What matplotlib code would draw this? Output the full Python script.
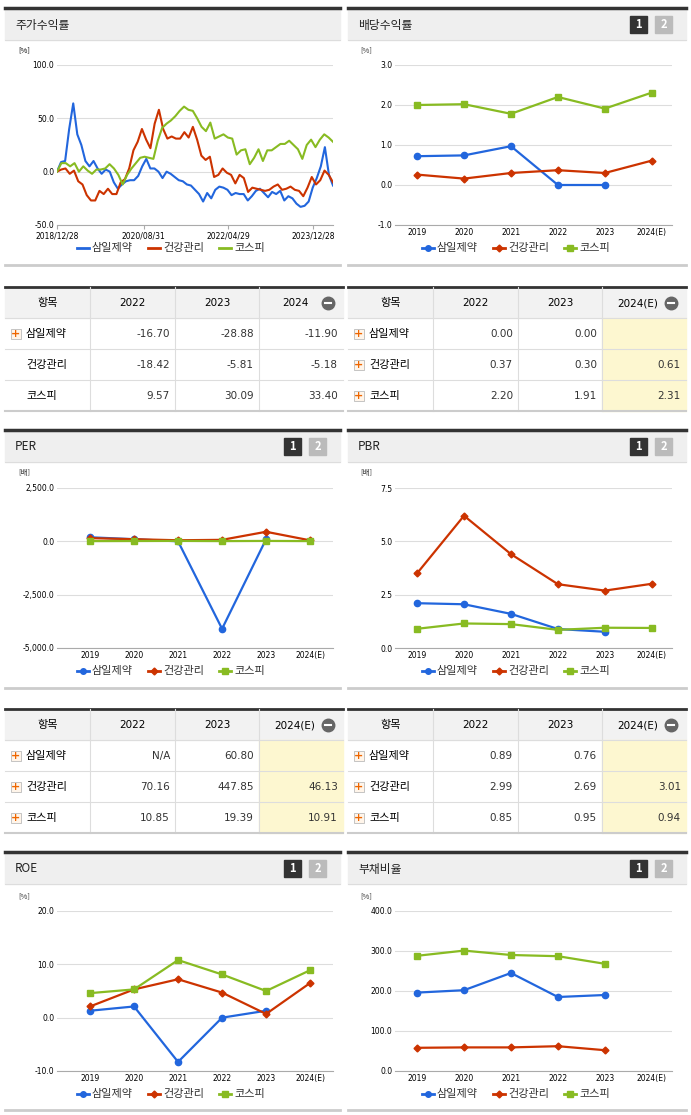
import numpy as np
import matplotlib
matplotlib.use("Agg")
import matplotlib.pyplot as plt
from matplotlib.patches import Rectangle
from matplotlib.lines import Line2D

plt.rcParams['font.family'] = ['Noto Sans CJK KR', 'DejaVu Sans']

names = ['삼일제약', '건강관리', '코스피']
colors = ['#2266dd', '#cc3300', '#88bb22']
markers = ['o', 'D', 's']
years = ['2019', '2020', '2021', '2022', '2023', '2024(E)']

stock_dates = ['2018/12/28', '2020/08/31', '2022/04/29', '2023/12/28']
stock_samil = [0, 9, 10, 40, 64, 35, 25, 10, 5, 10, 3, -2, 2, 0, -10, -16, -12, -9, -8, -8, -4, 5, 12, 3, 3,
               0, -6, 0, -2, -5, -8, -9, -12, -13, -17, -21, -28, -20, -25, -17, -14, -15, -17, -22, -20,
               -21, -21, -27, -23, -18, -16, -20, -24, -19, -21, -18, -27, -23, -25, -30, -33, -32, -28,
               -15, -6, 5, 23, -3, -13]
stock_health = [0, 2, 3, -2, 1, -9, -12, -22, -27, -27, -18, -21, -16, -21, -21, -10, -7, 3, 20, 28, 40, 30,
                22, 45, 58, 40, 31, 33, 31, 31, 37, 32, 42, 30, 15, 11, 14, -5, -3, 3, -1, -3, -11, -3, -6,
                -19, -15, -16, -17, -18, -17, -14, -12, -17, -16, -14, -17, -18, -23, -15, -5, -12, -8, 1,
                -3, -10]
stock_kospi = [0, 8, 8, 5, 8, 0, 5, 1, -2, 2, 2, 3, 7, 3, -3, -12, -3, 3, 8, 13, 14, 13, 12, 29, 41, 45, 48,
               52, 57, 61, 58, 57, 50, 42, 38, 46, 31, 33, 35, 32, 31, 16, 20, 21, 7, 13, 21, 10, 20, 20,
               23, 26, 26, 29, 25, 21, 12, 25, 30, 23, 30, 35, 32, 28]

div = [[0.72, 0.74, 0.97, 0.0, 0.0, None], [0.26, 0.16, 0.30, 0.37, 0.30, 0.61], [2.0, 2.02, 1.78, 2.20, 1.91, 2.31]]
per = [[190, 100, 0, -4100, 100, None], [150, 100, 50, 70, 448, 46], [10, 15, 20, 11, 19, 11]]
pbr = [[2.1, 2.05, 1.6, 0.89, 0.76, None], [3.5, 6.2, 4.4, 2.99, 2.69, 3.01], [0.9, 1.15, 1.12, 0.85, 0.95, 0.94]]
roe = [[1.3, 2.1, -8.3, 0.0, 1.3, None], [2.1, 5.3, 7.2, 4.7, 0.7, 6.5], [4.6, 5.3, 10.8, 8.1, 5.0, 8.9]]
debt = [[196, 202, 245, 185, 190, None], [58, 59, 59, 62, 52, None], [288, 301, 290, 287, 268, None]]

t1_cols = ['2022', '2023', '2024']
t1 = [['-16.70', '-28.88', '-11.90'], ['-18.42', '-5.81', '-5.18'], ['9.57', '30.09', '33.40']]
t_cols = ['2022', '2023', '2024(E)']
t2 = [['0.00', '0.00', ''], ['0.37', '0.30', '0.61'], ['2.20', '1.91', '2.31']]
t3 = [['N/A', '60.80', ''], ['70.16', '447.85', '46.13'], ['10.85', '19.39', '10.91']]
t4 = [['0.89', '0.76', ''], ['2.99', '2.69', '3.01'], ['0.85', '0.95', '0.94']]

W, H = 691, 1115
fig = plt.figure(figsize=(W / 100, H / 100), dpi=100)
bg = fig.add_axes([0, 0, 1, 1])
bg.set_xlim(0, W); bg.set_ylim(H, 0); bg.axis('off')


def pax(x0, y0, x1, y1):
    return fig.add_axes([x0 / W, 1 - y1 / H, (x1 - x0) / W, (y1 - y0) / H])


def panel(x0, x1, y0, y1, title, buttons):
    bg.add_patch(Rectangle((x0, y0), x1 - x0, 32, color='#efefef', zorder=0))
    bg.plot([x0, x1], [y0, y0], color='#333333', lw=2.5)
    bg.plot([x0, x1], [y0 + 32, y0 + 32], color='#dddddd', lw=0.8)
    bg.plot([x0, x1], [y1, y1], color='#cccccc', lw=2)
    bg.text(x0 + 10, y0 + 17, title, fontsize=8.5, va='center', color='#222222')
    if buttons:
        for i, (fc, lab) in enumerate([('#333333', '1'), ('#bbbbbb', '2')]):
            bx = x1 - 56 + i * 25
            bg.add_patch(Rectangle((bx, y0 + 8), 17, 17, color=fc))
            bg.text(bx + 8.5, y0 + 16.5, lab, color='white', fontsize=8, ha='center', va='center', weight='bold')


def style(ax, yticks, fmt):
    ax.set_ylim(yticks[0], yticks[-1])
    ax.set_yticks(yticks)
    ax.set_yticklabels([fmt.format(v) for v in yticks], fontsize=5.5, family='DejaVu Sans')
    ax.grid(axis='y', color='#dddddd', lw=0.8)
    ax.set_axisbelow(True)
    for s in ['top', 'right', 'left']:
        ax.spines[s].set_visible(False)
    ax.spines['bottom'].set_color('#aaaaaa')
    ax.tick_params(length=0, pad=2, labelsize=5.5)
    ax.patch.set_alpha(0)


def legend(cx, y, with_markers=True):
    x = cx - 95
    for n, c, m in zip(names, colors, markers):
        bg.plot([x, x + 12], [y, y], color=c, lw=2)
        if with_markers:
            bg.plot([x + 6], [y], marker=m, color=c, ms=4 if m != 'D' else 3.5)
        bg.text(x + 15, y, n, fontsize=8, va='center', color='#333333')
        x += 15 + len(n) * 11 + 12


def cat_chart(box, data, yticks, fmt, unit, unit_xy, xl):
    ax = pax(*box)
    for d, c, m in zip(data, colors, markers):
        xs = [i for i, v in enumerate(d) if v is not None]
        ys = [v for v in d if v is not None]
        ax.plot(xs, ys, color=c, lw=1.6, marker=m, ms=4.5 if m != 'D' else 3.5)
    ax.set_xlim(*xl)
    ax.set_xticks(range(6))
    ax.set_xticklabels(years, fontsize=5.5, family='DejaVu Sans')
    style(ax, yticks, fmt)
    bg.text(unit_xy[0], unit_xy[1], unit, fontsize=5.5, color='#333333')
    return ax


def table(x0, y0, cols, rows, icons, yellow, minus_col=2):
    xs = [x0, x0 + 85, x0 + 170, x0 + 254, x0 + 338]
    bg.plot([x0, xs[-1]], [y0, y0], color='#333333', lw=2)
    bg.add_patch(Rectangle((x0, y0), xs[-1] - x0, 31, color='#f2f2f2', zorder=0))
    if yellow:
        bg.add_patch(Rectangle((xs[3], y0 + 31), xs[4] - xs[3], 93, color='#fdf7d0', zorder=0))
    for i in range(1, 4):
        bg.plot([xs[i], xs[i]], [y0, y0 + 124], color='#dddddd', lw=0.8)
    for r in range(1, 4):
        bg.plot([x0, xs[-1]], [y0 + 31 * r, y0 + 31 * r], color='#dddddd', lw=0.8)
    bg.plot([x0, xs[-1]], [y0 + 124, y0 + 124], color='#cccccc', lw=1.5)
    bg.text((xs[0] + xs[1]) / 2, y0 + 16, '항목', ha='center', va='center', fontsize=8)
    for i, c in enumerate(cols):
        cx = (xs[i + 1] + xs[i + 2]) / 2
        if i == minus_col:
            bg.text(cx - 6, y0 + 16, c, ha='center', va='center', fontsize=7.5, family='DejaVu Sans')
            bg.plot([cx + 27], [y0 + 15.5], 'o', ms=9, color='#666666')
            bg.plot([cx + 24, cx + 30], [y0 + 15.5, y0 + 15.5], color='white', lw=1.5)
        else:
            bg.text(cx, y0 + 16, c, ha='center', va='center', fontsize=7.5, family='DejaVu Sans')
    for r, (n, row) in enumerate(zip(names, rows)):
        yy = y0 + 31 * (r + 1) + 16
        if icons[r]:
            bg.add_patch(Rectangle((x0 + 6, yy - 5), 10, 10, facecolor='#fff5ea', edgecolor='#bbbbbb', lw=0.6))
            bg.text(x0 + 11, yy, '+', color='#ee6600', fontsize=8, ha='center', va='center', weight='bold', family='DejaVu Sans')
        bg.text(x0 + 21, yy, n, va='center', fontsize=8)
        for i, v in enumerate(row):
            bg.text(xs[i + 2] - 5, yy, v, ha='right', va='center', fontsize=7.5, family='DejaVu Sans', color='#333333')


# Panels
panel(5, 340, 8, 265, '주가수익률', False)
panel(348, 686, 8, 265, '배당수익률', True)
panel(5, 340, 430, 688, 'PER', True)
panel(348, 686, 430, 688, 'PBR', True)
panel(5, 340, 852, 1110, 'ROE', True)
panel(348, 686, 852, 1110, '부채비율', True)

# Stock chart
ax = pax(57, 65, 333, 225)
for d, c in zip([stock_samil, stock_health, stock_kospi], colors):
    ax.plot(np.linspace(0, 1, len(d)), d, color=c, lw=1.5)
ax.set_xlim(0, 1)
ax.set_xticks([0, 0.3146, 0.6195, 0.9268])
ax.set_xticklabels(stock_dates, fontsize=5.5, family='DejaVu Sans')
style(ax, [-50, 0, 50, 100], '{:.1f}')
ax.tick_params(axis='x', length=3, color='#aaaaaa')
bg.text(18, 52, '[%]', fontsize=5.5)
legend(172, 248, with_markers=False)

cat_chart((395, 65, 672, 225), div, [-1, 0, 1, 2, 3], '{:.1f}', '[%]', (360, 52), (-0.47, 5.43))
legend(517, 248)

cat_chart((57, 488, 333, 648), per, [-5000, -2500, 0, 2500], '{:,.1f}', '[배]', (18, 475), (-0.75, 5.52))
legend(172, 671)
cat_chart((395, 488, 672, 648), pbr, [0, 2.5, 5, 7.5], '{:.1f}', '[배]', (360, 475), (-0.47, 5.43))
legend(517, 671)

cat_chart((57, 911, 333, 1071), roe, [-10, 0, 10, 20], '{:.1f}', '[%]', (18, 898), (-0.75, 5.52))
legend(172, 1094)
cat_chart((395, 911, 672, 1071), debt, [0, 100, 200, 300, 400], '{:.1f}', '[%]', (360, 898), (-0.47, 5.43))
legend(517, 1094)

table(5, 287, t1_cols, t1, [True, False, False], False)
table(348, 287, t_cols, t2, [True, True, True], True)
table(5, 709, t_cols, t3, [True, True, True], True)
table(348, 709, t_cols, t4, [True, True, True], True)

fig.savefig('out.png', dpi=100)
